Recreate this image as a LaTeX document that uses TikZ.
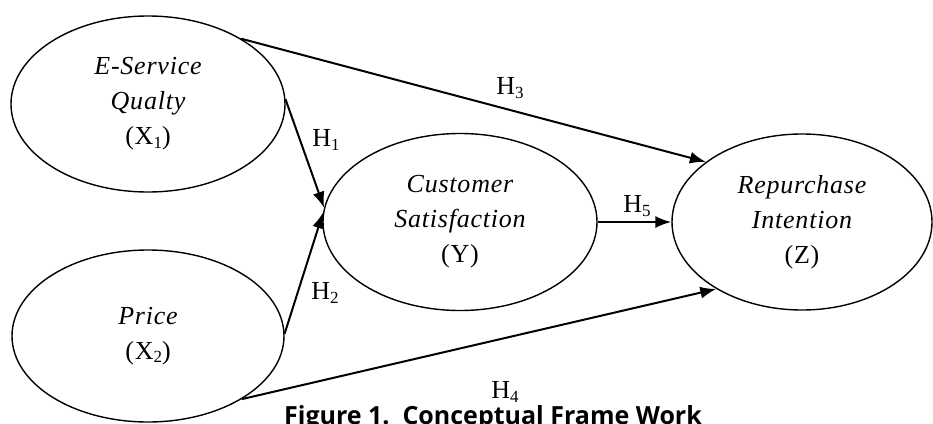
\documentclass[tikz,border=0pt]{standalone}
\usepackage{fontspec}
\setmainfont{Liberation Serif}
\newfontfamily\serifls[LetterSpace=3]{Liberation Serif}
\newfontfamily\capfont{Open Sans}
\usetikzlibrary{shapes.geometric,arrows.meta}
\newcommand\esub[1]{\raisebox{-0.14em}{\fontsize{17}{17}\selectfont #1}}
\newcommand\hsub[1]{\raisebox{-0.14em}{\fontsize{17}{17}\selectfont #1}}
\tikzset{
  construct/.style={shape=ellipse, draw, line width=1.4pt, inner sep=0pt,
    align=center, font=\serifls\fontsize{26}{35}\selectfont},
  path arrow/.style={line width=2pt, -{Latex[length=16pt,width=12pt]}},
  hlabel/.style={inner sep=0pt, font=\fontsize{26}{26}\selectfont},
}
\begin{document}
\begin{tikzpicture}[x=1pt,y=-1pt]
\useasboundingbox (0,0) rectangle (933,423);
\clip (0,0) rectangle (933,423);
\node[construct, minimum width=274pt, minimum height=176pt] (x1) at (148,104)
  {\itshape E-Service\\ \itshape Qualty\\ (X\esub{1})};
\node[construct, minimum width=272pt, minimum height=172pt] (x2) at (148,336)
  {\itshape Price\\ (X\esub{2})};
\node[construct, minimum width=274pt, minimum height=177pt] (y) at (460,222)
  {\itshape Customer\\ \itshape Satisfaction\\ (Y)};
\node[construct, minimum width=260pt, minimum height=176pt] (z) at (802,222)
  {\itshape Repurchase\\ \itshape Intention\\ (Z)};

\draw[path arrow] (x1.35) -- (z.148);
\draw[path arrow] (x1.2) -- (y.174);
\draw[path arrow] (x2.1) -- (y.176);
\draw[path arrow] (y.east) -- (z.west);
\draw[path arrow] (x2.-34) -- (z.218);

\node[hlabel] (h3) at (510,88) {H\hsub{3}};
\node[hlabel] (h1) at (326,140) {H\hsub{1}};
\node[hlabel] (h2) at (325,293) {H\hsub{2}};
\node[hlabel] (h5) at (637,206) {H\hsub{5}};
\node[hlabel] (h4) at (505,392) {H\hsub{4}};

\node[anchor=base, inner sep=0pt, font=\capfont\bfseries\fontsize{25}{25}\selectfont] (cap) at (493,424)
  {Figure 1.\ \ Conceptual Frame Work};
\end{tikzpicture}
\end{document}
